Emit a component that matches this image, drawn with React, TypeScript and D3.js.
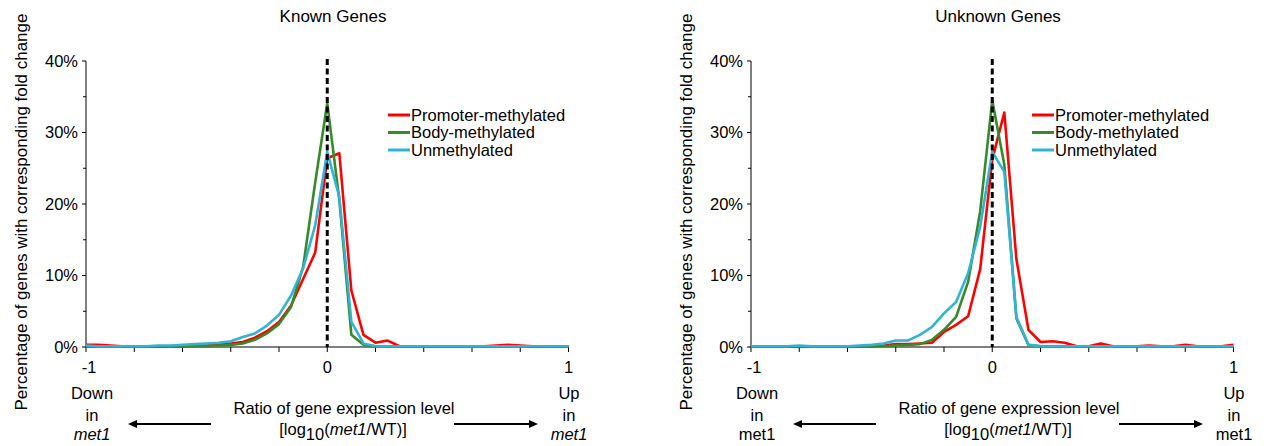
import React from 'react';
import * as d3 from 'd3';

// bin centres of log10(met1/WT)
const BINS = [
  -1, -0.95, -0.9, -0.85, -0.8, -0.75, -0.7, -0.65, -0.6, -0.55, -0.5, -0.45, -0.4, -0.35, -0.3, -0.25, -0.2, -0.15, -0.1, -0.05,
  0, 0.05, 0.1, 0.15, 0.2, 0.25, 0.3, 0.35, 0.4, 0.45, 0.5, 0.55, 0.6, 0.65, 0.7, 0.75, 0.8, 0.85, 0.9, 0.95, 1,
];

// Known genes (% of genes)
const KNOWN_PROMOTER = [
  0.3, 0.3, 0.2, 0.1, 0.1, 0.1, 0.1, 0.1, 0.1, 0.2, 0.2, 0.3, 0.5, 0.7, 1.3, 2.2, 3.5, 5.8, 9.5, 13.2,
  26.4, 27.1, 7.9, 1.7, 0.6, 0.9, 0.1, 0.1, 0.1, 0.1, 0.1, 0.1, 0.1, 0.1, 0.2, 0.3, 0.2, 0.1, 0.1, 0.1, 0.1,
];
const KNOWN_BODY = [
  0.1, 0.1, 0.1, 0.1, 0.1, 0.1, 0.1, 0.1, 0.1, 0.1, 0.1, 0.2, 0.3, 0.5, 1.0, 1.9, 3.2, 5.6, 11.2, 23.0,
  34.1, 20.6, 1.7, 0.3, 0.1, 0.1, 0.1, 0.1, 0.1, 0.1, 0.1, 0.1, 0.1, 0.1, 0.1, 0.1, 0.1, 0.1, 0.1, 0.1, 0.1,
];
const KNOWN_UNMETH = [
  0.2, 0.1, 0.1, 0.1, 0.1, 0.1, 0.2, 0.2, 0.3, 0.4, 0.5, 0.6, 0.8, 1.4, 1.9, 3.0, 4.5, 7.2, 11.0, 17.0,
  27.3, 21.0, 3.5, 0.5, 0.1, 0.1, 0.1, 0.1, 0.1, 0.1, 0.1, 0.1, 0.1, 0.1, 0.1, 0.1, 0.1, 0.1, 0.1, 0.1, 0.1,
];

// Unknown genes (% of genes)
const UNKNOWN_PROMOTER = [
  0.1, 0.1, 0.1, 0.1, 0.1, 0.1, 0.1, 0.1, 0.1, 0.1, 0.1, 0.2, 0.4, 0.4, 0.5, 0.6, 2.1, 3.1, 4.3, 10.9,
  26.2, 32.8, 12.3, 2.4, 0.7, 0.8, 0.6, 0.1, 0.1, 0.5, 0.1, 0.1, 0.1, 0.2, 0.1, 0.1, 0.3, 0.1, 0.1, 0.1, 0.3,
];
const UNKNOWN_BODY = [
  0.1, 0.1, 0.1, 0.1, 0.1, 0.1, 0.1, 0.1, 0.1, 0.1, 0.1, 0.1, 0.2, 0.3, 0.4, 1.0, 2.4, 4.2, 9.1, 19.0,
  34.5, 25.5, 4.0, 0.3, 0.1, 0.1, 0.1, 0.1, 0.1, 0.1, 0.1, 0.1, 0.1, 0.1, 0.1, 0.1, 0.1, 0.1, 0.1, 0.1, 0.1,
];
const UNKNOWN_UNMETH = [
  0.1, 0.1, 0.1, 0.1, 0.2, 0.1, 0.1, 0.1, 0.1, 0.2, 0.3, 0.5, 0.9, 0.9, 1.7, 2.8, 4.7, 6.3, 10.3, 16.8,
  27.3, 24.5, 4.2, 0.3, 0.1, 0.1, 0.1, 0.1, 0.1, 0.1, 0.1, 0.1, 0.1, 0.1, 0.1, 0.1, 0.1, 0.1, 0.1, 0.1, 0.1,
];

const SERIES_NAMES = ['Promoter-methylated', 'Body-methylated', 'Unmethylated'];
const COLORS = ['#ff0000', '#368a2c', '#31b3d6'];
const Y_TICKS = [0, 10, 20, 30, 40];
const Y_MINOR = [5, 15, 25, 35];
const X_TICKS = [-1, -0.8, -0.6, -0.4, -0.2, 0, 0.2, 0.4, 0.6, 0.8, 1];
const X_LABELS = [-1, 0, 1];

const FONT = '"Liberation Sans", Arial, sans-serif';

const Arrow = ({ x1, x2, y }: { x1: number; x2: number; y: number }) => {
  // x2 is the head end
  const dir = x2 > x1 ? 1 : -1;
  const hl = 9;
  return (
    <g>
      <line x1={x1} x2={x2 - dir * hl} y1={y} y2={y} stroke="#000" strokeWidth={2} />
      <polygon points={`${x2},${y} ${x2 - dir * hl},${y - 4} ${x2 - dir * hl},${y + 4}`} fill="#000" />
    </g>
  );
};

const Panel = ({ dx, title, series, legendX, italicMet }: any) => {
  const x = d3.scaleLinear().domain([-1, 1]).range([86 + dx, 568.5 + dx]);
  const y = d3.scaleLinear().domain([0, 40]).range([347, 61]);
  const line = d3.line<number>().x((_, i) => x(BINS[i])).y(d => y(d));
  const x0 = x.range()[0];
  const fs = 16.5;

  return (
    <g fontFamily={FONT} fill="#000">
      <text x={333 + dx} y={22} textAnchor="middle" fontSize={17}>{title}</text>
      <text
        transform={`translate(${27 + dx},212) rotate(-90)`}
        textAnchor="middle"
        fontSize={17}
      >
        Percentage of genes with corresponding fold change
      </text>

      {/* y axis */}
      <line x1={x0} x2={x0} y1={y(40)} y2={y(0)} stroke="#000" strokeWidth={1} />
      {Y_TICKS.map(t => (
        <g key={t}>
          <line x1={x0 - 4} x2={x0} y1={y(t)} y2={y(t)} stroke="#000" />
          <text x={x0 - 8} y={y(t)} dy="0.36em" textAnchor="end" fontSize={fs}>{t}%</text>
        </g>
      ))}
      {Y_MINOR.map(t => (
        <line key={t} x1={x0 - 3} x2={x0} y1={y(t)} y2={y(t)} stroke="#000" />
      ))}

      {/* x axis */}
      <line x1={x(-1)} x2={x(1)} y1={y(0)} y2={y(0)} stroke="#000" strokeWidth={1.2} />
      {X_TICKS.map(t => (
        <line key={t} x1={x(t)} x2={x(t)} y1={y(0)} y2={y(0) + 5} stroke="#000" />
      ))}
      {X_LABELS.map(t => (
        <text key={t} x={x(t) + (t === -1 ? 3 : 0)} y={373} textAnchor="middle" fontSize={fs}>{t}</text>
      ))}

      {/* series */}
      {series.map((s: number[], i: number) => (
        <path key={i} d={line(s) || ''} fill="none" stroke={COLORS[i]} strokeWidth={2.6} strokeLinejoin="round" />
      ))}

      {/* zero line */}
      <line x1={x(0)} x2={x(0)} y1={59} y2={y(0)} stroke="#000" strokeWidth={3} strokeDasharray="6,3.5" />

      {/* legend */}
      {SERIES_NAMES.map((n, i) => (
        <g key={n} transform={`translate(${legendX + dx},${115 + i * 17.5})`}>
          <line x1={0} x2={22} y1={0} y2={0} stroke={COLORS[i]} strokeWidth={3} />
          <text x={23} y={0} dy="0.36em" fontSize={fs}>{n}</text>
        </g>
      ))}

      {/* bottom annotations */}
      <g fontSize={fs} textAnchor="middle">
        <text x={92 + dx} y={399}>Down</text>
        <text x={92 + dx} y={421}>in</text>
        <text x={92 + dx} y={440} fontStyle={italicMet ? 'italic' : 'normal'}>met1</text>
        <text x={569 + dx} y={399}>Up</text>
        <text x={569 + dx} y={421}>in</text>
        <text x={569 + dx} y={440} fontStyle={italicMet ? 'italic' : 'normal'}>met1</text>
        <text x={344 + dx} y={414}>Ratio of gene expression level</text>
        <text x={343 + dx} y={435}>
          [log<tspan dy={5} fontSize={fs}>10</tspan>
          <tspan dy={-5}>(</tspan>
          <tspan fontStyle="italic">met1</tspan>/WT)]
        </text>
      </g>
      <Arrow x1={211 + dx} x2={128 + dx} y={424} />
      <Arrow x1={454 + dx} x2={538 + dx} y={424} />
    </g>
  );
};

export default function App() {
  return (
    <div style={{ position: 'absolute', left: 0, top: 0, background: '#fff' }}>
      <svg width={1267} height={446} style={{ display: 'block' }}>
        <rect width={1267} height={446} fill="#fff" />
        <Panel
          dx={0}
          title="Known Genes"
          series={[KNOWN_PROMOTER, KNOWN_BODY, KNOWN_UNMETH]}
          legendX={388}
          italicMet={true}
        />
        <Panel
          dx={665}
          title="Unknown Genes"
          series={[UNKNOWN_PROMOTER, UNKNOWN_BODY, UNKNOWN_UNMETH]}
          legendX={1032 - 665}
          italicMet={false}
        />
      </svg>
    </div>
  );
}
